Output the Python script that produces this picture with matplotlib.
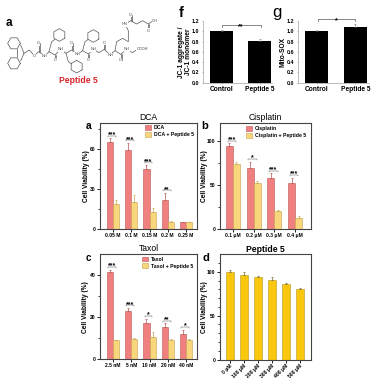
import matplotlib
matplotlib.use("Agg")
import matplotlib.pyplot as plt
import numpy as np

W = 378.0
plt.rcParams['font.family'] = ['Liberation Sans', 'DejaVu Sans']

RED = '#F08080'
RED_E = '#B85450'
YEL = '#F8D67C'
YEL_E = '#C9A24E'
GOLD = '#F9C80E'
GOLD_E = '#B8962A'

# panel a: DCA
dca_labels = ['0.05 M', '0.1 M', '0.15 M', '0.2 M', '0.25 M']
dca_values = [65, 59.5, 45, 21.5, 5]
dca_err = [3, 5, 3, 5.5, 0.3]
dcap_values = [19, 20.5, 12.5, 5.2, 5.2]
dcap_err = [3, 5, 3.5, 0.5, 0.4]
dca_stars = ['***', '***', '***', '**', '']

# panel b: Cisplatin
cis_labels = ['0.1 μM', '0.2 μM', '0.3 μM', '0.4 μM']
cis_values = [94, 69, 58, 52]
cis_err = [3, 7, 5, 6]
cisp_values = [74, 52, 20, 13]
cisp_err = [1.5, 2, 1, 1.5]
cis_stars = ['***', '*', '***', '***']

# panel c: Taxol
tax_labels = ['2.5 nM', '5 nM', '10 nM', '20 nM', '40 nM']
tax_values = [41.5, 22.8, 17, 15.5, 12]
tax_err = [1, 1.5, 2.2, 1.5, 2]
taxp_values = [9, 9.7, 10.8, 9.2, 9.2]
taxp_err = [0.4, 0.5, 2.2, 0.4, 0.5]
tax_stars = ['***', '***', '*', '**', '*']

# panel d: Peptide 5
pep_labels = ['0 μM', '100 μM', '200 μM', '300 μM', '400 μM', '500 μM']
pep_values = [100, 96.5, 94.5, 91, 86.5, 80.5]
pep_err = [2.5, 3, 1, 3, 0.5, 1]

# panels f and g
bar_labels = ['Control', 'Peptide 5']
f_values = [1.0, 0.81]
f_err = [0.02, 0.04]
g_values = [1.0, 1.09]
g_err = [0.02, 0.05]

fig = plt.figure(figsize=(3.78, 3.78), dpi=100)

def ax_px(x0, y0, x1, y1):
    return fig.add_axes([x0 / W, 1 - y1 / W, (x1 - x0) / W, (y1 - y0) / W])

def style(ax):
    for s in ax.spines.values():
        s.set_linewidth(0.8)
        s.set_color('#444444')
    ax.tick_params(axis='both', length=2, width=0.6, pad=1, labelsize=3.6)
    ax.tick_params(axis='y', which='minor', length=1.2, width=0.5)

def grouped(ax, labels, v1, e1, v2, e2, stars, ymax, yticks, minor, name, xlim, label_x, legend_xy):
    x = np.arange(len(labels))
    w = 0.34
    ax.bar(x - w / 2, v1, w, color=RED, edgecolor=RED_E, linewidth=0.4,
           yerr=[np.zeros(len(e1)), e1], error_kw=dict(ecolor=RED_E, elinewidth=0.5, capsize=0.8, capthick=0.5))
    ax.bar(x + w / 2, v2, w, color=YEL, edgecolor=YEL_E, linewidth=0.4,
           yerr=[np.zeros(len(e2)), e2], error_kw=dict(ecolor=YEL_E, elinewidth=0.5, capsize=0.8, capthick=0.5))
    for i, s in enumerate(stars):
        if not s:
            continue
        top = max(v1[i] + e1[i], v2[i] + e2[i]) + 0.025 * ymax
        ax.plot([i - 0.26, i - 0.26, i + 0.16, i + 0.16],
                [top - 0.008 * ymax, top, top, top - 0.008 * ymax], color='#555555', lw=0.35)
        ax.text(i - 0.05, top - 0.022 * ymax, s, ha='center', va='bottom', fontsize=5, fontweight='bold')
    ax.set_xlim(*xlim)
    ax.set_ylim(0, ymax)
    ax.set_yticks(yticks)
    ax.set_yticks(minor, minor=True)
    ax.set_xticks(x)
    ax.set_xticklabels(labels, fontweight='bold', fontsize=3.4)
    ax.set_yticklabels([str(t) for t in yticks], fontweight='bold', fontsize=3.6)
    ax.set_ylabel('Cell Viability (%)', fontsize=4.8, fontweight='bold')
    ax.yaxis.set_label_coords(label_x, 0.5)
    ax.set_title(name, fontsize=6.2, pad=2)
    style(ax)
    h = [plt.Rectangle((0, 0), 1, 1, fc=RED, ec=RED_E, lw=0.4),
         plt.Rectangle((0, 0), 1, 1, fc=YEL, ec=YEL_E, lw=0.4)]
    ax.legend(h, [name, name + ' + Peptide 5'], loc='upper left', bbox_to_anchor=legend_xy,
              frameon=False, prop=dict(size=3.7, weight='bold'), handlelength=1.1, handleheight=1.0,
              labelspacing=0.35, borderpad=0, borderaxespad=0, handletextpad=0.55)

ax_a = ax_px(100, 122.5, 197, 229)
grouped(ax_a, dca_labels, dca_values, dca_err, dcap_values, dcap_err, dca_stars, 80,
        [0, 30, 60], [15, 45, 75], 'DCA', (-0.71, 4.6), -0.105, (0.465, 0.975))
ax_b = ax_px(219.5, 123, 311, 229)
grouped(ax_b, cis_labels, cis_values, cis_err, cisp_values, cisp_err, cis_stars, 120,
        [0, 50, 100], [25, 75], 'Cisplatin', (-0.65, 3.77), -0.125, (0.29, 0.97))
ax_c = ax_px(100, 254, 197, 359.3)
grouped(ax_c, tax_labels, tax_values, tax_err, taxp_values, taxp_err, tax_stars, 50,
        [0, 20, 40], [10, 30], 'Taxol', (-0.71, 4.6), -0.11, (0.435, 0.975))

ax_d = ax_px(219.5, 254.3, 311, 359.5)
x = np.arange(len(pep_labels))
ax_d.bar(x, pep_values, 0.52, color=GOLD, edgecolor=GOLD_E, linewidth=0.4,
         yerr=[np.zeros(len(pep_err)), pep_err], error_kw=dict(ecolor='#7A6A20', elinewidth=0.5, capsize=0.9, capthick=0.5))
ax_d.set_xlim(-0.76, 5.79)
ax_d.set_ylim(0, 120)
ax_d.set_yticks([0, 50, 100])
ax_d.set_yticks([10, 20, 30, 40, 60, 70, 80, 90, 110], minor=True)
ax_d.set_xticks(x)
ax_d.set_xticklabels(pep_labels, rotation=45, ha='right', rotation_mode='anchor', fontweight='bold', fontsize=3.1)
ax_d.set_yticklabels(['0', '50', '100'], fontweight='bold', fontsize=3.6)
ax_d.set_ylabel('Cell Viability (%)', fontsize=4.8, fontweight='bold')
ax_d.yaxis.set_label_coords(-0.125, 0.5)
ax_d.set_title('Peptide 5', fontsize=6.2, fontweight='bold', pad=2)
style(ax_d)

def simple(ax, vals, errs, ylabel, star, bracket_y, xlim, bracket_x, label_x):
    x = np.arange(2)
    ax.bar(x, vals, 0.6, color='black',
           yerr=[[0, 0], errs], error_kw=dict(ecolor='#777777', elinewidth=0.4, capsize=0.8, capthick=0.4))
    ax.set_xlim(*xlim)
    ax.set_ylim(0, 1.2)
    ax.set_yticks(np.arange(0, 1.21, 0.2))
    ax.set_yticklabels(['%.1f' % t for t in np.arange(0, 1.21, 0.2)], fontsize=3.9, fontweight='bold')
    ax.set_xticks(x)
    ax.set_xticklabels(bar_labels, fontsize=4.8, fontweight='bold')
    ax.set_ylabel(ylabel, fontsize=4.8, fontweight='bold', linespacing=1.0)
    ax.yaxis.set_label_coords(label_x, 0.5)
    for s in ('top', 'right'):
        ax.spines[s].set_visible(False)
    for s in ('left', 'bottom'):
        ax.spines[s].set_linewidth(0.4)
        ax.spines[s].set_color('#888888')
    ax.tick_params(axis='both', length=1, width=0.4, pad=1.5, color='#888888')
    ax.plot([bracket_x[0], bracket_x[0], bracket_x[1], bracket_x[1]],
            [bracket_y - 0.04, bracket_y, bracket_y, bracket_y - 0.04],
            color='#444444', lw=0.45, clip_on=False)
    ax.text(sum(bracket_x) / 2, bracket_y - 0.09, star, ha='center', va='bottom', fontsize=5, fontweight='bold', clip_on=False)

ax_f = ax_px(202.5, 21, 272, 82.7)
simple(ax_f, f_values, f_err, 'JC-1 aggregate /\nJC-1 monomer', '**', 1.12, (-0.51, 1.33), (0, 1.03), -0.15)
ax_g = ax_px(298, 21, 369, 82.7)
simple(ax_g, g_values, g_err, 'Mito-SOX', '*', 1.233, (-0.49, 1.35), (0.03, 1.0), -0.165)

# panel letters and compound caption
for txt, px, py, fs, fw in [('a', 8.5, 23, 8.5, 'bold'), ('f', 181, 13, 10.5, 'bold'), ('g', 277, 12, 12, 'normal'),
                            ('a', 89, 126, 7.5, 'bold'), ('b', 205, 125.5, 8, 'bold'),
                            ('c', 88, 258, 7, 'bold'), ('d', 206, 258, 8, 'bold')]:
    fig.text(px / W, 1 - py / W, txt, fontsize=fs, fontweight=fw, ha='center', va='center')
fig.text(78.7 / W, 1 - 80.7 / W, 'Peptide 5', color='#D8232A', fontsize=6.2, fontweight='bold', ha='center', va='center')

# peptide structure sketch, traced in 3x crop coordinates of the reference
ov = fig.add_axes([0, 0, 1, 1], facecolor='none')
ov.set_xlim(0, W)
ov.set_ylim(W, 0)
ov.axis('off')
mol = dict(color='#555555', lw=0.5, solid_capstyle='round')

def line(*pts):
    p = np.array(pts) / 3.0
    ov.plot(p[:, 0], p[:, 1], **mol)

def hexa(cx, cy, r=19, rot=30):
    a = np.deg2rad(np.arange(0, 361, 60) + rot)
    ov.plot((cx + r * np.cos(a)) / 3, (cy + r * np.sin(a)) / 3, **mol)

def label(px, py, s, fs=2.8):
    ov.text(px / 3, py / 3, s, fontsize=fs, color='#444444', ha='center', va='center',
            bbox=dict(fc='white', ec='none', pad=0.2))

hexa(42, 130, rot=0)
hexa(42, 190, rot=0)
line((62, 135), (72, 160), (62, 183))
line((52, 148), (52, 172))
line((72, 160), (88, 150), (103, 167), (116, 155), (135, 168), (147, 155),
     (165, 165), (182, 148), (198, 160), (215, 150), (232, 163), (248, 152),
     (265, 162), (280, 148), (297, 158), (313, 148), (330, 165), (345, 152),
     (362, 163), (380, 148), (397, 158), (412, 148))
line((116, 155), (116, 130))
line((119, 155), (119, 130))
line((165, 165), (165, 180))
line((168, 165), (168, 180))
line((215, 150), (215, 130))
line((218, 150), (218, 130))
line((265, 162), (265, 180))
line((268, 162), (268, 180))
line((313, 148), (313, 128))
line((316, 148), (316, 128))
line((362, 163), (362, 180))
line((365, 163), (365, 180))
line((147, 155), (155, 125), (165, 118))
hexa(178, 105)
line((198, 160), (205, 185), (215, 192))
hexa(230, 200)
line((248, 152), (255, 125), (265, 118))
hexa(280, 108)
line((345, 152), (350, 125), (368, 115), (385, 125), (385, 92), (375, 73))
line((375, 73), (392, 62), (410, 72), (428, 62), (445, 72), (460, 62))
line((392, 62), (392, 45))
line((395, 62), (395, 45))
line((445, 72), (445, 90))
line((448, 72), (448, 90))
for px, py, s in [(103, 167, 'O'), (116, 130, 'O'), (135, 168, 'NH'), (165, 180, 'O'),
                  (182, 148, 'NH'), (215, 130, 'O'), (232, 163, 'NH'), (265, 180, 'O'),
                  (280, 148, 'NH'), (313, 128, 'O'), (330, 165, 'NH'), (362, 180, 'O'),
                  (380, 148, 'NH'), (375, 73, 'HN'), (392, 44, 'O'), (445, 92, 'O'),
                  (464, 62, 'OH'), (427, 148, 'COOH')]:
    label(px, py, s)

fig.savefig('out.png', dpi=100, facecolor='white')
